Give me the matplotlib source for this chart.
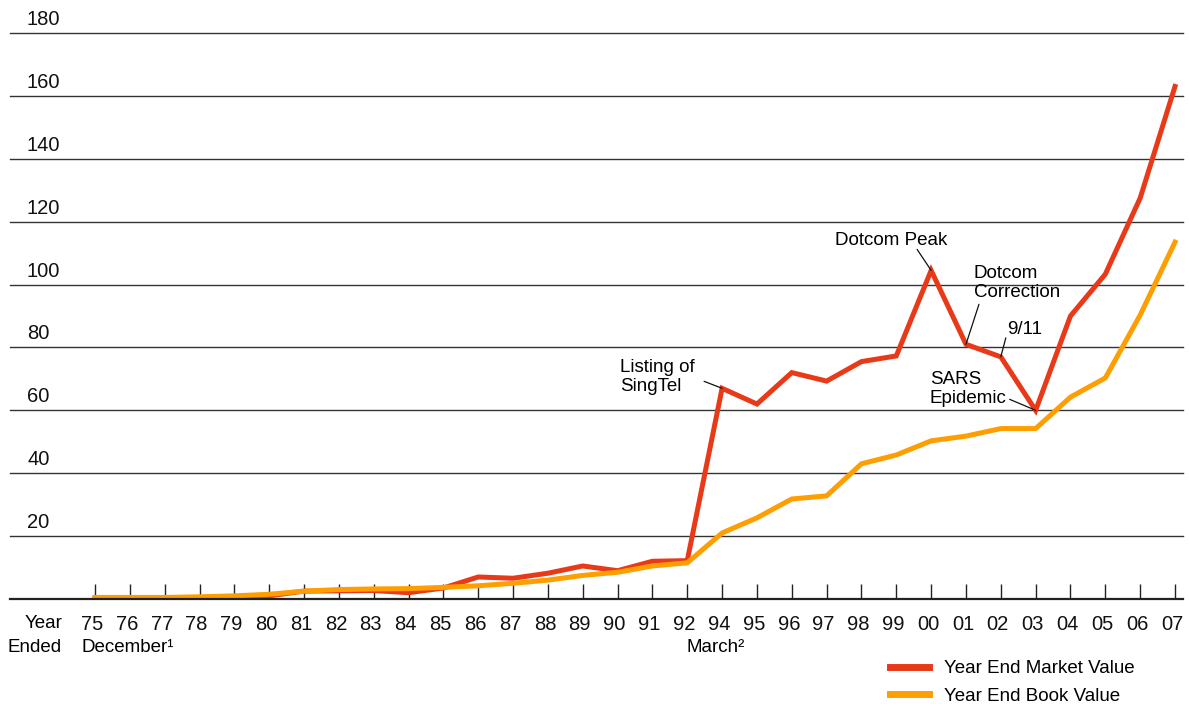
import matplotlib
matplotlib.use("Agg")
import matplotlib.pyplot as plt
from matplotlib.transforms import ScaledTranslation

plt.rcParams['font.family'] = ['Liberation Sans', 'DejaVu Sans']

# year labels along the bottom (December year-ends, then March year-ends)
years = ['75', '76', '77', '78', '79', '80', '81', '82', '83', '84', '85', '86',
         '87', '88', '89', '90', '91', '92', '94', '95', '96', '97', '98', '99',
         '00', '01', '02', '03', '04', '05', '06', '07']

# values
market_value = [0.3, 0.3, 0.3, 0.3, 0.5, 1.0, 2.5, 2.6, 2.7, 2.0, 3.5, 7.0,
                6.6, 8.2, 10.5, 9.0, 12.0, 12.2, 67.0, 62.0, 72.0, 69.3, 75.5, 77.3,
                104.5, 81.0, 77.0, 60.0, 90.0, 103.3, 127.5, 163.0]
book_value = [0.5, 0.5, 0.5, 0.7, 1.0, 1.5, 2.5, 3.0, 3.2, 3.3, 3.7, 4.2,
              5.0, 6.0, 7.5, 8.5, 10.5, 11.5, 21.0, 25.8, 31.8, 32.8, 43.0, 45.8,
              50.3, 51.8, 54.2, 54.2, 64.2, 70.3, 90.3, 113.5]

y_ticks = [20, 40, 60, 80, 100, 120, 140, 160, 180]

# events: (label, year index, text offset px, leader start px, leader end px, ha)
events = [
    ('Listing of\nSingTel', 18, (-102, 11), (-18, 7), (-2, 2), 'left'),
    ('Dotcom Peak', 24, (-40, 30), (-14, 21), (0, 5), 'center'),
    ('Dotcom\nCorrection', 25, (8, 61), (13, 40), (2, 3), 'left'),
    ('9/11', 26, (6, 27), (5, 19), (2, 2), 'left'),
    ('SARS\nEpidemic', 27, (-29, 21), (-26, 11), (0, -2), 'right'),
]

red = '#E83A18'
orange = '#FF9E00'

W, H = 1189, 704
fig = plt.figure(figsize=(W / 100, H / 100), dpi=100)
ax = fig.add_axes([10 / W, (H - 599) / H, (1183 - 10) / W, 566 / H])

x = list(range(len(years)))
ax.plot(x, market_value, color=red, lw=3.6, label='Year End Market Value',
        solid_joinstyle='miter')
ax.plot(x, book_value, color=orange, lw=3.6, label='Year End Book Value',
        solid_joinstyle='miter')

ax.set_ylim(0, 180)
ax.set_xlim(-85 / 34.84, 31 + 8 / 34.84)

for s in ['top', 'right', 'left']:
    ax.spines[s].set_visible(False)
ax.spines['bottom'].set_linewidth(1.6)
ax.spines['bottom'].set_color('#222222')

ax.set_yticks(y_ticks)
ax.set_yticklabels([])
ax.tick_params(axis='y', length=0)
ax.yaxis.grid(True, color='#333333', lw=1.0)
for gl in ax.get_ygridlines():
    gl.set_clip_on(False)
ax.set_axisbelow(True)

for v in y_ticks:
    ax.annotate(str(v), xy=(0, v), xycoords=('axes fraction', 'data'),
                xytext=(17, 4), textcoords='offset pixels',
                ha='left', va='bottom', fontsize=14.5, color='#111111')

ax.set_xticks(x)
ax.set_xticklabels(years, fontsize=14.5, color='#111111')
ax.tick_params(axis='x', direction='in', length=11, width=1.0,
               color='#222222', pad=10)
shift = ScaledTranslation(-3 / 100, -2 / 100, fig.dpi_scale_trans)
for lbl in ax.get_xticklabels():
    lbl.set_transform(lbl.get_transform() + shift)

ax.annotate('Year', xy=(0, 0), xytext=(-33, -24), textcoords='offset pixels',
            ha='right', va='center', fontsize=13.5)
ax.annotate('Ended', xy=(0, 0), xytext=(-33, -48), textcoords='offset pixels',
            ha='right', va='center', fontsize=13.5)
ax.annotate('December¹', xy=(0, 0), xytext=(-13, -48), textcoords='offset pixels',
            ha='left', va='center', fontsize=13.5)
ax.annotate('March²', xy=(17, 0), xytext=(-1, -48), textcoords='offset pixels',
            ha='left', va='center', fontsize=13.5)

for label, i, toff, lstart, lend, ha in events:
    v = market_value[i]
    ax.annotate(label, xy=(i, v), xytext=toff, textcoords='offset pixels',
                ha=ha, va='center', fontsize=13.5, linespacing=1.15,
                multialignment='left')
    ax.annotate('', xy=(i, v), xytext=lstart, textcoords='offset pixels',
                arrowprops=dict(arrowstyle='-', color='#111111', lw=0.9,
                                shrinkA=0, shrinkB=0,
                                relpos=(0.5, 0.5)))

leg = ax.legend(loc='upper left', bbox_to_anchor=(890 / W, 1 - 660 / H),
                bbox_transform=fig.transFigure, frameon=False, fontsize=13.5,
                handlelength=2.1, handletextpad=0.8, labelspacing=0.55,
                borderpad=0, borderaxespad=0)
for line in leg.get_lines():
    line.set_linewidth(5)

fig.savefig('out.png', dpi=100)
